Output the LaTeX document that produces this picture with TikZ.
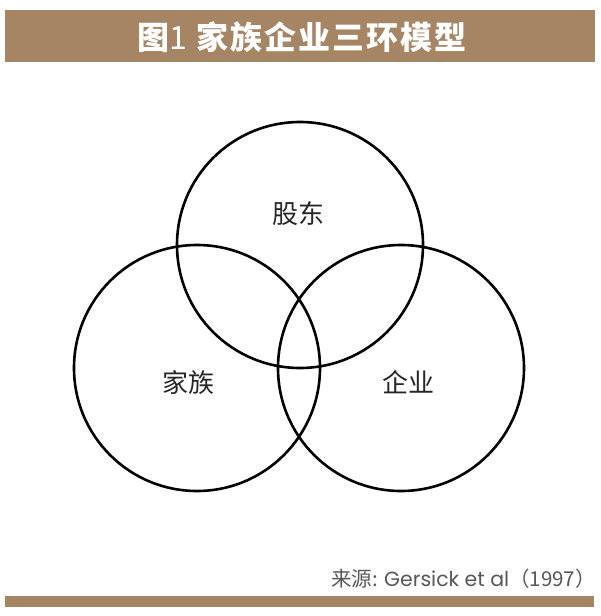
\documentclass[tikz,border=0pt]{standalone}
\usepackage{fontspec}
\newfontfamily\cjk{Noto Sans CJK SC}
\newfontfamily\latin{Poppins}
\definecolor{tan}{RGB}{166,133,100}
\definecolor{srcgray}{RGB}{88,88,88}
\tikzset{
  ring/.style={circle,draw=black,line width=2.6pt,minimum size=246pt,inner sep=0pt},
  lbl/.style={font=\cjk\fontsize{26}{26}\selectfont,text=black!85}
}
\begin{document}
\begin{tikzpicture}[x=1pt,y=-1pt]
\useasboundingbox (0,0) rectangle (600,616);
\fill[white] (0,0) rectangle (600,616);

\fill[tan] (5,10) rectangle (595,62);
\node[text=white,font=\cjk\bfseries\fontsize{32}{32}\selectfont\addfontfeatures{LetterSpace=6}] (title) at (302,37) {图{\mdseries 1} 家族企业三环模型};

  \node[ring] (gudong) at (300,245) {};
  \node[ring] (jiazu) at (197,368) {};
  \node[ring] (qiye) at (401,368) {};

\node[lbl] (gd) at (298,214) {股东};
\node[lbl] (jz) at (188,383) {家族};
\node[lbl] (qy) at (408,382) {企业};

\node[anchor=base east,inner sep=0pt,text=srcgray,font=\cjk\fontsize{20.5}{20.5}\selectfont] (src) at (596,586) {来源: {\latin Gersick et al}（1997）};
\fill[tan] (5,596) rectangle (594,607);
\end{tikzpicture}
\end{document}
